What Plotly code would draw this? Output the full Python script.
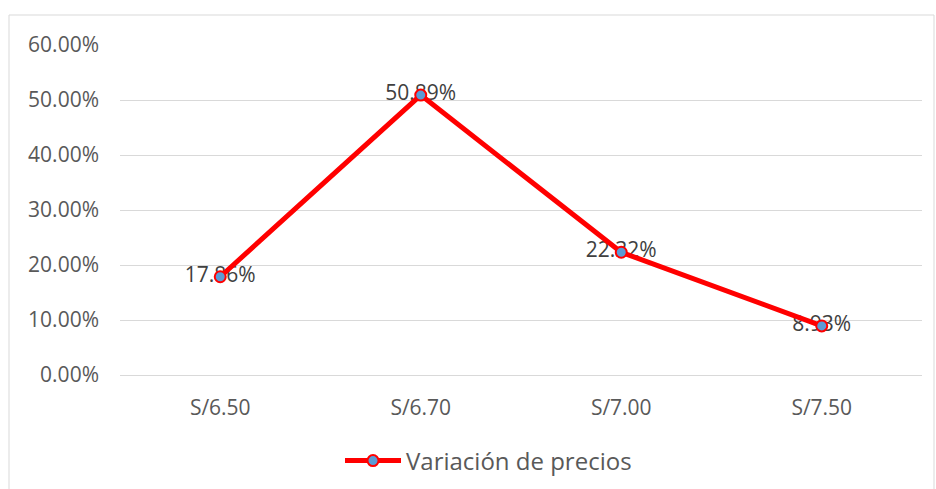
import plotly.graph_objects as go

# Price points and the share of each
precios = ["S/6.50", "S/6.70", "S/7.00", "S/7.50"]
variacion = [17.86, 50.89, 22.32, 8.93]
etiquetas = [f"{v:.2f}%" for v in variacion]
y_ticks = [0, 10, 20, 30, 40, 50, 60]
y_tick_labels = [f"{t:.2f}%" for t in y_ticks]

FONT = "Open Sans"
SIZE = 21

fig = go.Figure()

# value labels drawn first so the line and markers sit on top
fig.add_trace(go.Scatter(
    x=precios, y=variacion, mode="text", text=etiquetas,
    textposition="middle center",
    textfont=dict(family=FONT, size=SIZE, color="#404040"),
    showlegend=False, hoverinfo="skip",
))

fig.add_trace(go.Scatter(
    x=precios, y=variacion, mode="lines+markers",
    name="Variación de precios",
    line=dict(color="#FF0000", width=5),
    marker=dict(size=11, color="#5B9BD5", line=dict(color="#FF0000", width=2)),
))

fig.update_layout(
    width=936, height=489,
    margin=dict(l=120, r=14, t=45, b=114, autoexpand=False),
    paper_bgcolor="white", plot_bgcolor="white",
    font=dict(family=FONT, size=SIZE, color="#595959"),
    xaxis=dict(
        type="category", range=[-0.5, 3.5],
        showgrid=False, showline=False, zeroline=False,
        ticks="", ticklabelstandoff=18,
        tickfont=dict(family=FONT, size=SIZE, color="#595959"),
    ),
    yaxis=dict(
        range=[0, 60], tickvals=y_ticks, ticktext=y_tick_labels,
        showgrid=True, gridcolor="#D9D9D9", gridwidth=1,
        zeroline=True, zerolinecolor="#D9D9D9", zerolinewidth=1,
        showline=False, ticks="", ticklabelstandoff=20,
        tickfont=dict(family=FONT, size=SIZE, color="#595959"),
    ),
    legend=dict(
        orientation="h", x=(340 - 120) / 802, xanchor="left",
        y=(375 - 461) / 330, yanchor="middle",
        font=dict(family=FONT, size=24, color="#595959"),
        bgcolor="rgba(0,0,0,0)", itemwidth=56,
    ),
    shapes=[dict(
        type="rect", xref="paper", yref="paper",
        x0=(9 - 120) / 802, x1=(934 - 120) / 802,
        y0=-0.6, y1=(375 - 15) / 330,
        line=dict(color="#D9D9D9", width=1), fillcolor="rgba(0,0,0,0)",
        layer="below",
    )],
)

fig.write_html("out.html")
